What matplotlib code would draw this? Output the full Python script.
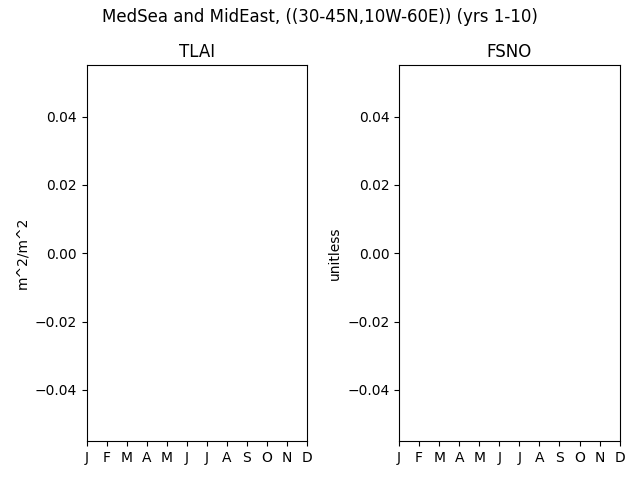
import numpy as np
import matplotlib
matplotlib.use("Agg")
import matplotlib.pyplot as plt

# monthly climatology, no valid data in this region
months = np.arange(1, 13)
month_labels = ["J", "F", "M", "A", "M", "J", "J", "A", "S", "O", "N", "D"]
tlai = np.full(12, np.nan)
fsno = np.full(12, np.nan)

variables = ["TLAI", "FSNO"]
units = ["m^2/m^2", "unitless"]
series = [tlai, fsno]

fig, axes = plt.subplots(1, 2, figsize=(6.4, 4.8), dpi=100)
for ax, name, unit, vals in zip(axes, variables, units, series):
    ax.plot(months, vals)
    ax.set_title(name)
    ax.set_ylabel(unit)
    ax.set_xticks(months)
    ax.set_xticklabels(month_labels)
    ax.set_xlim(months[0], months[-1])

fig.suptitle("MedSea and MidEast, ((30-45N,10W-60E)) (yrs 1-10)", y=0.984)
fig.tight_layout()
fig.subplots_adjust(top=0.864, bottom=0.081)
fig.savefig("out.png")
